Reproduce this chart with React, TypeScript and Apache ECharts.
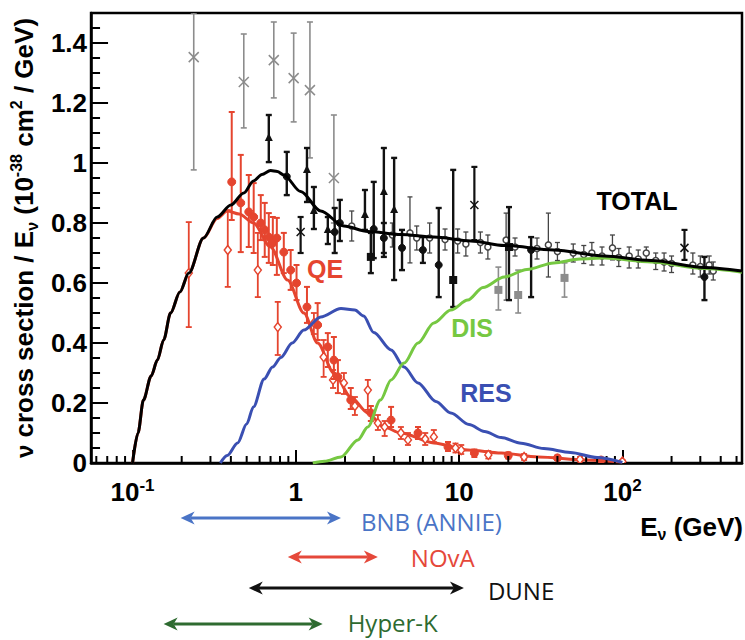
import React, { useEffect, useRef } from 'react';
import * as echarts from 'echarts';

// ---------- axis ranges ----------
const X_MIN = 0.0557;
const X_MAX = 540;
const Y_MAX = 1.5;

// ---------- model curves (E in GeV, sigma/E in 1e-38 cm^2/GeV) ----------
const TOTAL_E = [0.1, 0.108, 0.1166, 0.13, 0.142, 0.155, 0.171, 0.195, 0.221, 0.272, 0.33, 0.4, 0.48, 0.55, 0.62, 0.7, 0.77, 0.844, 1.07, 1.42, 1.97, 2.76, 4.4, 7.0, 11.8, 18.9, 38, 77.5, 150, 318, 540];
const TOTAL_S = [0, 0.1, 0.21, 0.29, 0.343, 0.41, 0.5, 0.57, 0.633, 0.75, 0.82, 0.86, 0.9, 0.94, 0.962, 0.975, 0.972, 0.96, 0.905, 0.84, 0.79, 0.772, 0.762, 0.753, 0.74, 0.725, 0.71, 0.69, 0.675, 0.652, 0.64];

const QE_E = [0.1, 0.108, 0.1166, 0.13, 0.142, 0.155, 0.171, 0.195, 0.221, 0.272, 0.33, 0.38, 0.45, 0.55, 0.7, 0.89, 1.12, 1.36, 1.71, 2.17, 2.76, 3.46, 4.4, 7.0, 11.3, 18.1, 30.5, 60, 100];
const QE_S = [0, 0.1, 0.21, 0.29, 0.343, 0.41, 0.5, 0.57, 0.633, 0.75, 0.815, 0.84, 0.83, 0.8, 0.72, 0.61, 0.5, 0.4, 0.3, 0.22, 0.167, 0.12, 0.1, 0.067, 0.043, 0.033, 0.02, 0.01, 0.003];

const RES_E = [0.345, 0.38, 0.44, 0.5, 0.55, 0.64, 0.72, 0.81, 0.95, 1.12, 1.42, 1.89, 2.3, 2.6, 3.0, 3.83, 4.6, 5.6, 7.2, 8.9, 11.5, 14.3, 18.1, 24, 33, 48, 70, 100];
const RES_S = [0, 0.025, 0.067, 0.13, 0.187, 0.28, 0.32, 0.352, 0.4, 0.443, 0.487, 0.515, 0.51, 0.49, 0.435, 0.377, 0.32, 0.267, 0.205, 0.167, 0.128, 0.105, 0.085, 0.066, 0.048, 0.035, 0.018, 0.002];

const DIS_E = [1.27, 1.5, 1.89, 2.4, 2.76, 3.3, 3.83, 4.6, 5.6, 7.0, 8.9, 11.3, 14, 18.9, 26, 38, 55, 77.5, 150, 318, 540];
const DIS_S = [0, 0.006, 0.02, 0.077, 0.12, 0.21, 0.277, 0.333, 0.4, 0.467, 0.51, 0.543, 0.585, 0.62, 0.645, 0.667, 0.68, 0.683, 0.67, 0.648, 0.636];

// ---------- measurements: [E, value, low, high] ----------
const GRAY_CROSS = [
  [0.237, 1.353, 0.977, 1.55],
  [0.48, 1.27, 1.117, 1.43],
  [0.733, 1.343, 1.217, 1.47],
  [0.97, 1.283, 1.137, 1.433],
  [1.22, 1.243, 1.017, 1.47],
  [1.71, 0.95, 0.8, 1.16],
];
const BLACK_CROSS = [
  [1.07, 0.77, 0.7, 0.82],
  [12.4, 0.86, 0.743, 0.987],
  [240, 0.717, 0.677, 0.777],
];
const BLACK_TRI = [
  [0.683, 1.083, 1.003, 1.16],
  [1.17, 0.977, 0.87, 1.05],
  [1.29, 0.84, 0.78, 0.92],
  [1.57, 0.777, 0.73, 0.82],
  [2.65, 0.827, 0.777, 0.91],
  [3.46, 0.903, 0.687, 1.05],
  [4.0, 0.843, 0.61, 1.017],
];
const BLACK_CIRC = [
  [0.88, 0.955, 0.893, 1.037],
  [1.73, 0.77, 0.7, 0.85],
  [1.86, 0.8, 0.74, 0.877],
  [3.0, 0.78, 0.683, 0.937],
  [3.46, 0.75, 0.7, 0.8],
  [4.47, 0.717, 0.643, 0.777],
  [6.0, 0.71, 0.667, 0.753],
  [7.5, 0.66, 0.553, 0.85],
  [27.6, 0.71, 0.553, 0.753],
  [318, 0.62, 0.543, 0.687],
];
const BLACK_SQ = [
  [2.88, 0.687, 0.633, 0.767],
  [9.2, 0.61, 0.52, 0.977],
  [20.2, 0.72, 0.543, 0.853],
];
const GRAY_SQ = [
  [17.4, 0.577, 0.51, 0.653],
  [23.0, 0.56, 0.5, 0.643],
  [44.2, 0.617, 0.553, 0.667],
];
const OPEN_PTS = [
  [2.2, 0.79, 0.74, 0.84], [3.9, 0.76, 0.72, 0.8], [5.0, 0.767, 0.667, 0.887], [5.5, 0.75, 0.71, 0.79],
  [6.6, 0.75, 0.7, 0.8], [8.2, 0.745, 0.71, 0.78], [9.8, 0.74, 0.7, 0.78], [11, 0.73, 0.69, 0.77],
  [13.5, 0.735, 0.7, 0.77], [15, 0.72, 0.68, 0.76], [19.4, 0.743, 0.543, 0.833], [22, 0.72, 0.69, 0.75],
  [30, 0.715, 0.68, 0.75], [35.2, 0.727, 0.62, 0.833], [40, 0.705, 0.675, 0.735], [50, 0.7, 0.67, 0.73],
  [58, 0.695, 0.665, 0.725], [65, 0.7, 0.66, 0.735], [75, 0.69, 0.66, 0.72], [86.9, 0.717, 0.677, 0.76],
  [95, 0.685, 0.655, 0.715], [110, 0.69, 0.65, 0.72], [125, 0.68, 0.65, 0.71], [140, 0.7, 0.67, 0.72],
  [160, 0.675, 0.645, 0.7], [180, 0.67, 0.64, 0.7], [200, 0.665, 0.635, 0.69], [270, 0.66, 0.63, 0.7],
  [300, 0.655, 0.62, 0.69], [340, 0.66, 0.63, 0.69], [360, 0.64, 0.61, 0.67],
];
const RED_FILLED = [
  [0.405, 0.937, 0.81, 1.17], [0.46, 0.867, 0.703, 1.027], [0.515, 0.837, 0.72, 0.96], [0.552, 0.82, 0.7, 0.933],
  [0.61, 0.8, 0.743, 0.893], [0.645, 0.777, 0.687, 0.867], [0.683, 0.753, 0.667, 0.833], [0.723, 0.733, 0.66, 0.82],
  [0.765, 0.75, 0.627, 0.817], [0.844, 0.703, 0.633, 0.767], [0.93, 0.643, 0.577, 0.71], [1.01, 0.6, 0.543, 0.66],
  [1.17, 0.52, 0.467, 0.587], [1.36, 0.46, 0.41, 0.533], [1.57, 0.387, 0.32, 0.433], [1.71, 0.343, 0.28, 0.42],
  [1.81, 0.287, 0.233, 0.343], [2.17, 0.21, 0.18, 0.25], [2.88, 0.167, 0.14, 0.19], [3.83, 0.143, 0.12, 0.187],
  [5.6, 0.1, 0.08, 0.12], [8.55, 0.053, 0.04, 0.07], [12.4, 0.033, 0.02, 0.045], [20, 0.025, 0.015, 0.035],
  [40, 0.017, 0.01, 0.025], [74, 0.01, 0.005, 0.015],
];
const RED_OPEN = [
  [0.221, 0.633, 0.453, 0.803], [0.383, 0.71, 0.587, 0.843], [0.585, 0.643, 0.553, 0.767], [0.775, 0.453, 0.36, 0.537],
  [1.29, 0.467, 0.43, 0.5], [1.48, 0.353, 0.287, 0.41], [1.69, 0.277, 0.25, 0.31], [1.97, 0.267, 0.23, 0.3],
  [2.3, 0.19, 0.16, 0.22], [2.76, 0.243, 0.177, 0.277], [3.18, 0.133, 0.11, 0.16], [3.5, 0.12, 0.09, 0.14],
  [4.4, 0.1, 0.08, 0.12], [4.86, 0.077, 0.06, 0.1], [6.2, 0.08, 0.06, 0.1], [7.0, 0.087, 0.07, 0.11],
  [9.5, 0.05, 0.035, 0.065], [10.3, 0.043, 0.03, 0.06], [15.1, 0.027, 0.015, 0.04], [25, 0.02, 0.01, 0.03],
  [55, 0.012, 0.005, 0.02], [100, 0.005, 0, 0.01],
];

// ---------- experiments' energy ranges ----------
const EXPERIMENTS = ['BNB (ANNIE)', 'NOvA', 'DUNE', 'Hyper-K'];
const EXP_E_MIN = [0.197, 0.893, 0.515, 0.155];
const EXP_E_MAX = [1.89, 3.18, 10.7, 1.46];

// ---------- axis tick positions ----------
const X_MINOR_TICKS = [0.06, 0.07, 0.08, 0.09, 0.2, 0.3, 0.4, 0.5, 0.6, 0.7, 0.8, 0.9, 2, 3, 4, 5, 6, 7, 8, 9, 20, 30, 40, 50, 60, 70, 80, 90, 200, 300, 400, 500];
const Y_MINOR_TICKS = [0.05, 0.1, 0.15, 0.25, 0.3, 0.35, 0.45, 0.5, 0.55, 0.65, 0.7, 0.75, 0.85, 0.9, 0.95, 1.05, 1.1, 1.15, 1.25, 1.3, 1.35, 1.45];

// ---------- layout / style ----------
const EXP_ROW_Y = [-0.183, -0.313, -0.417, -0.537];
const EXP_LABEL_GAP = [20, 33, 24, 25];
const EXP_LABEL_DY = [4, 1, 2, -2];
const EXP_COLORS = ['#4a74c6', '#e5483a', '#111111', '#2e6b30'];
const F = '"Liberation Sans", Arial, Helvetica, sans-serif';
const RED = '#e5452f';
const BLUE = '#3a4fb2';
const GREEN = '#76c842';
const GRAY = '#8c8c8c';

const zip = (xs: number[], ys: number[]) => xs.map((x, i) => [x, ys[i]]);

function marker(kind: string, x: number, y: number, color: string, size: number): any[] {
  const h = size / 2;
  switch (kind) {
    case 'circle':
      return [{ type: 'circle', shape: { cx: x, cy: y, r: h }, style: { fill: color, stroke: color, lineWidth: 1 } }];
    case 'openCircle':
      return [{ type: 'circle', shape: { cx: x, cy: y, r: h }, style: { fill: '#fff', stroke: color, lineWidth: 1.5 } }];
    case 'tri':
      return [{ type: 'polygon', shape: { points: [[x, y - h - 1], [x - h, y + h - 1], [x + h, y + h - 1]] }, style: { fill: color } }];
    case 'square':
      return [{ type: 'rect', shape: { x: x - h, y: y - h, width: size, height: size }, style: { fill: color } }];
    case 'diamond':
      return [{ type: 'polygon', shape: { points: [[x, y - h - 1], [x + h, y], [x, y + h + 1], [x - h, y]] }, style: { fill: '#fff', stroke: color, lineWidth: 1.5 } }];
    case 'cross':
    default:
      return [
        { type: 'line', shape: { x1: x - h, y1: y - h, x2: x + h, y2: y + h }, style: { stroke: color, lineWidth: 1.5 } },
        { type: 'line', shape: { x1: x - h, y1: y + h, x2: x + h, y2: y - h }, style: { stroke: color, lineWidth: 1.5 } },
      ];
  }
}

function errorSeries(name: string, data: number[][], kind: string, color: string, lw: number, cap: number, size: number, z: number) {
  return {
    type: 'custom',
    name,
    data,
    clip: true,
    z,
    encode: { x: 0, y: 1 },
    renderItem: (params: any, api: any) => {
      const e = api.value(0);
      const v = api.value(1);
      const lo = Math.max(api.value(2), 0);
      const hi = Math.min(api.value(3), Y_MAX);
      const p = api.coord([e, v]);
      const pl = api.coord([e, lo]);
      const ph = api.coord([e, hi]);
      const st = { stroke: color, lineWidth: lw };
      return {
        type: 'group',
        children: [
          { type: 'line', shape: { x1: p[0], y1: pl[1], x2: p[0], y2: ph[1] }, style: st },
          { type: 'line', shape: { x1: p[0] - cap, y1: pl[1], x2: p[0] + cap, y2: pl[1] }, style: st },
          { type: 'line', shape: { x1: p[0] - cap, y1: ph[1], x2: p[0] + cap, y2: ph[1] }, style: st },
          ...marker(kind, p[0], p[1], color, size),
        ],
      };
    },
  };
}

function curveSeries(name: string, xs: number[], ys: number[], color: string, z: number) {
  return {
    type: 'line',
    name,
    data: zip(xs, ys),
    smooth: 0.3,
    smoothMonotone: 'x',
    showSymbol: false,
    symbol: 'none',
    clip: true,
    z,
    lineStyle: { color, width: 3 },
  };
}

export default function App() {
  const ref = useRef<HTMLDivElement>(null);

  useEffect(() => {
    if (!ref.current) return;
    const chart = echarts.init(ref.current, null, { renderer: 'svg' });

    const option: any = {
      animation: false,
      backgroundColor: '#fff',
      textStyle: { fontFamily: F },
      grid: {
        left: 91, right: 3, top: 13, bottom: 177,
        show: true, borderColor: '#000', borderWidth: 2.5, backgroundColor: 'transparent',
      },
      xAxis: {
        type: 'log',
        logBase: 10,
        min: X_MIN,
        max: X_MAX,
        axisLine: { show: true, lineStyle: { color: '#000', width: 2.5 } },
        axisTick: { show: true, inside: true, length: 13, lineStyle: { color: '#000', width: 2 } },
        splitLine: { show: false },
        axisLabel: {
          margin: 14,
          color: '#000',
          fontSize: 26,
          fontWeight: 'bold',
          fontFamily: F,
          lineHeight: 30,
          formatter: (v: number) => {
            const p = Math.log10(v);
            const r = Math.round(p);
            if (Math.abs(p - r) > 1e-6) return '';
            if (r === 0) return '1';
            if (r === 1) return '10';
            return '10{sup|' + r + '}';
          },
          rich: {
            sup: { fontSize: 17, fontWeight: 'bold', fontFamily: F, color: '#000', verticalAlign: 'top', lineHeight: 16 },
          },
        },
      },
      yAxis: {
        type: 'value',
        min: 0,
        max: Y_MAX,
        interval: 0.2,
        axisLine: { show: true, lineStyle: { color: '#000', width: 2.5 } },
        axisTick: { show: true, inside: true, length: 17, lineStyle: { color: '#000', width: 2 } },
        splitLine: { show: false },
        axisLabel: {
          margin: 4,
          color: '#000',
          fontSize: 26,
          fontWeight: 'bold',
          fontFamily: F,
          showMaxLabel: false,
        },
        name: '{nu|ν} cross section / E{sub|ν} (10{sup|-38} cm{sup|2} / GeV)',
        nameLocation: 'middle',
        nameRotate: 90,
        nameGap: 46,
        nameTextStyle: {
          fontSize: 26,
          fontWeight: 'bold',
          fontFamily: F,
          color: '#000',
          lineHeight: 32,
          rich: {
            nu: { fontSize: 24, fontWeight: 'bold', fontFamily: F, color: '#000' },
            sub: { fontSize: 16, fontWeight: 'bold', fontFamily: F, color: '#000', verticalAlign: 'bottom', lineHeight: 14 },
            sup: { fontSize: 16, fontWeight: 'bold', fontFamily: F, color: '#000', verticalAlign: 'top', lineHeight: 14 },
          },
        },
      },
      series: [
        // minor ticks
        {
          type: 'custom',
          name: 'xMinor',
          data: X_MINOR_TICKS.map((v) => [v, 0]),
          z: 5,
          renderItem: (params: any, api: any) => {
            const p = api.coord([api.value(0), 0]);
            return { type: 'line', shape: { x1: p[0], y1: p[1], x2: p[0], y2: p[1] - 7 }, style: { stroke: '#000', lineWidth: 2 } };
          },
        },
        {
          type: 'custom',
          name: 'yMinor',
          data: Y_MINOR_TICKS.map((v) => [X_MIN, v]),
          z: 5,
          renderItem: (params: any, api: any) => {
            const p = api.coord([X_MIN, api.value(1)]);
            return { type: 'line', shape: { x1: p[0], y1: p[1], x2: p[0] + 9, y2: p[1] }, style: { stroke: '#000', lineWidth: 2 } };
          },
        },
        // data (black / gray)
        errorSeries('grayCross', GRAY_CROSS, 'cross', GRAY, 1.6, 3, 10, 2),
        errorSeries('open', OPEN_PTS, 'openCircle', '#444', 1.3, 2.5, 6, 2),
        errorSeries('graySq', GRAY_SQ, 'square', GRAY, 1.6, 3, 8, 2),
        errorSeries('blackCross', BLACK_CROSS, 'cross', '#111', 2.2, 3, 8, 2),
        errorSeries('blackTri', BLACK_TRI, 'tri', '#111', 2.4, 3, 8, 2),
        errorSeries('blackCirc', BLACK_CIRC, 'circle', '#111', 2.4, 3, 7, 2),
        errorSeries('blackSq', BLACK_SQ, 'square', '#111', 2.4, 3, 8, 2),
        // curves
        curveSeries('QE', QE_E, QE_S, RED, 3),
        errorSeries('redOpen', RED_OPEN, 'diamond', RED, 1.8, 3, 7, 4),
        errorSeries('redFilled', RED_FILLED, 'circle', RED, 2, 3, 8, 4),
        curveSeries('RES', RES_E, RES_S, BLUE, 5),
        curveSeries('DIS', DIS_E, DIS_S, GREEN, 5),
        curveSeries('TOTAL', TOTAL_E, TOTAL_S, '#000', 6),
        // experiment energy ranges
        {
          type: 'custom',
          name: 'experiments',
          clip: false,
          z: 7,
          data: EXPERIMENTS.map((n, i) => [EXP_E_MIN[i], EXP_E_MAX[i], EXP_ROW_Y[i]]),
          encode: { x: [0, 1], y: 2 },
          renderItem: (params: any, api: any) => {
            const i = params.dataIndex;
            const c = EXP_COLORS[i];
            const a = api.coord([api.value(0), api.value(2)]);
            const b = api.coord([api.value(1), api.value(2)]);
            const L = 14;
            const W = 6.5;
            const y = a[1];
            return {
              type: 'group',
              children: [
                { type: 'line', shape: { x1: a[0] + L - 4, y1: y, x2: b[0] - L + 4, y2: y }, style: { stroke: c, lineWidth: 3 } },
                { type: 'polygon', shape: { points: [[b[0], y], [b[0] - L, y - W], [b[0] - L + 4, y], [b[0] - L, y + W]] }, style: { fill: c } },
                { type: 'polygon', shape: { points: [[a[0], y], [a[0] + L, y - W], [a[0] + L - 4, y], [a[0] + L, y + W]] }, style: { fill: c } },
                {
                  type: 'text',
                  x: b[0] + EXP_LABEL_GAP[i],
                  y: y + EXP_LABEL_DY[i],
                  style: {
                    text: EXPERIMENTS[i], fill: c, fontSize: 24, fontFamily: '"Open Sans", sans-serif',
                    align: 'left', verticalAlign: 'middle', textAlign: 'left', textVerticalAlign: 'middle',
                  },
                },
              ],
            };
          },
        },
      ],
      graphic: [
        { type: 'text', x: 325, y: 269, style: { text: 'QE', fill: RED, font: 'bold 25px ' + F, align: 'center', verticalAlign: 'middle', textAlign: 'center', textVerticalAlign: 'middle' } },
        { type: 'text', x: 472, y: 328, style: { text: 'DIS', fill: GREEN, font: 'bold 25px ' + F, align: 'center', verticalAlign: 'middle', textAlign: 'center', textVerticalAlign: 'middle' } },
        { type: 'text', x: 486, y: 393, style: { text: 'RES', fill: BLUE, font: 'bold 25px ' + F, align: 'center', verticalAlign: 'middle', textAlign: 'center', textVerticalAlign: 'middle' } },
        { type: 'text', x: 637, y: 201, style: { text: 'TOTAL', fill: '#000', font: 'bold 25px ' + F, align: 'center', verticalAlign: 'middle', textAlign: 'center', textVerticalAlign: 'middle' } },
        {
          type: 'text', x: 743, y: 527,
          style: {
            text: 'E{sub|ν} (GeV)', fill: '#000', font: 'bold 26px ' + F, fontSize: 26, fontWeight: 'bold', fontFamily: F,
            align: 'right', verticalAlign: 'middle', textAlign: 'right', textVerticalAlign: 'middle', lineHeight: 30,
            rich: { sub: { fontSize: 16, fontWeight: 'bold', fontFamily: F, fill: '#000', verticalAlign: 'bottom', lineHeight: 12 } },
          },
        },
      ],
    };

    chart.setOption(option);
    return () => chart.dispose();
  }, []);

  return <div ref={ref} style={{ position: 'absolute', left: 0, top: 0, width: 745, height: 640 }} />;
}
